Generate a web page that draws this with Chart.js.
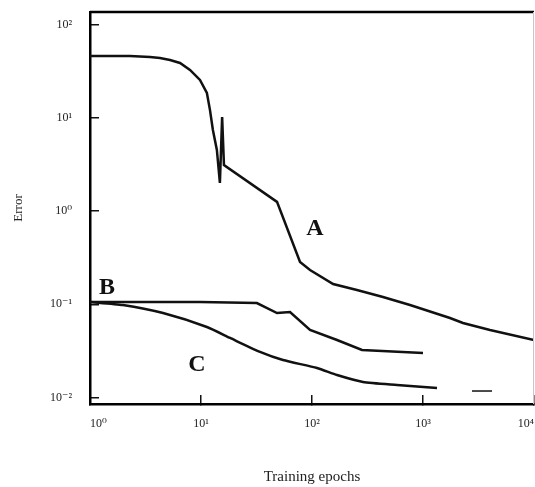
<!DOCTYPE html>
<html>
<head>
<meta charset="utf-8">
<script src="https://cdn.jsdelivr.net/npm/chart.js@4.4.1/dist/chart.umd.min.js"></script>
<style>
  body { margin: 0; background: #fff; }
  #wrap { width: 535px; height: 487px; }
</style>
</head>
<body>
<div id="wrap"><canvas id="errorChart" width="535" height="487"></canvas></div>
<script>
// axis ticks
const epochTicks = [1, 10, 100, 1000, 10000];
const epochTickLabels = ['10⁰', '10¹', '10²', '10³', '10⁴'];
const errorTicks = [0.01, 0.1, 1, 10, 100];
const errorTickLabels = ['10⁻²', '10⁻¹', '10⁰', '10¹', '10²'];

// curve A
const epochsA = [1, 2.29, 3.47, 4.27, 5.26, 6.47, 7.96, 9.79, 11.3, 12.05, 12.8, 13.9, 14.8, 15.5, 16.1, 48.4, 78, 96, 155, 254, 436, 764, 1750, 2291, 4014, 10000];
const errorA = [46.5, 46.5, 45.4, 44.2, 42.1, 39.1, 32.9, 25.7, 18.6, 12.2, 7.45, 4.55, 2.01, 10.3, 3.14, 1.26, 0.285, 0.234, 0.165, 0.1425, 0.12, 0.0984, 0.0713, 0.063, 0.053, 0.0414];

// curve B
const epochsB = [1, 3.47, 9.79, 31.9, 48.4, 63.4, 96, 168, 282, 1000];
const errorB = [0.106, 0.106, 0.106, 0.1033, 0.0806, 0.0827, 0.053, 0.0414, 0.0323, 0.03];

// curve C
const epochsC = [1, 1.98, 4.55, 11.3, 18.3, 34, 54.8, 111, 168, 288, 583, 1337];
const errorC = [0.106, 0.0984, 0.0806, 0.0571, 0.0435, 0.0308, 0.0252, 0.0207, 0.0174, 0.01465, 0.0136, 0.0126];

// short stray mark near the bottom right
const epochsMark = [2762, 4185];
const errorMark = [0.01172, 0.01172];

const curveNames = ['A', 'B', 'C'];
// where the curve letters sit (data coords of the letter baseline)
const letterAt = [[106, 0.556], [1.42, 0.129], [9.2, 0.0192]];

function pts(xs, ys) {
  return xs.map((x, i) => ({ x: x, y: ys[i] }));
}

function lineSet(label, data, width, tension) {
  return {
    label: label,
    data: data,
    borderColor: '#111',
    borderWidth: width,
    pointRadius: 0,
    tension: tension,
    fill: false
  };
}

const serif = '"Liberation Serif", "DejaVu Serif", serif';

// top/right frame and the A/B/C letters
const framePlugin = {
  id: 'frame',
  afterDraw(chart) {
    const ctx = chart.ctx;
    const a = chart.chartArea;
    ctx.save();
    ctx.strokeStyle = '#000';
    ctx.lineWidth = 2.5;
    ctx.beginPath();
    ctx.moveTo(a.left, a.top);
    ctx.lineTo(a.right, a.top);
    ctx.stroke();
    ctx.strokeStyle = '#c8c8c8';
    ctx.lineWidth = 1;
    ctx.beginPath();
    ctx.moveTo(a.right - 0.5, a.top);
    ctx.lineTo(a.right - 0.5, a.bottom);
    ctx.stroke();

    ctx.fillStyle = '#111';
    ctx.font = 'bold 24px ' + serif;
    ctx.textAlign = 'center';
    ctx.textBaseline = 'alphabetic';
    curveNames.forEach((name, i) => {
      const px = chart.scales.x.getPixelForValue(letterAt[i][0]);
      const py = chart.scales.y.getPixelForValue(letterAt[i][1]);
      ctx.fillText(name, px, py);
    });
    ctx.restore();
  }
};

const ctx = document.getElementById('errorChart').getContext('2d');
new Chart(ctx, {
  type: 'line',
  data: {
    datasets: [
      lineSet('A', pts(epochsA, errorA), 2.5, 0),
      lineSet('B', pts(epochsB, errorB), 2.5, 0),
      lineSet('C', pts(epochsC, errorC), 2.5, 0.2),
      lineSet('mark', pts(epochsMark, errorMark), 1.5, 0)
    ]
  },
  options: {
    responsive: false,
    animation: false,
    layout: { padding: { top: 12, right: 1, left: 0, bottom: 0 } },
    plugins: { legend: { display: false }, tooltip: { enabled: false } },
    scales: {
      x: {
        type: 'logarithmic',
        min: 1,
        max: 10000,
        afterBuildTicks: (scale) => { scale.ticks = epochTicks.map(v => ({ value: v })); },
        afterFit: (scale) => { scale.height = 83; scale.paddingLeft = 0; scale.paddingRight = 0; },
        ticks: {
          autoSkip: false,
          maxRotation: 0,
          align: 'inner',
          padding: 22,
          color: '#222',
          font: { family: serif, size: 12 },
          callback: (v, i) => epochTickLabels[i]
        },
        grid: { drawOnChartArea: false, drawTicks: true, tickLength: -9, color: '#111', lineWidth: 1.5 },
        border: { display: true, color: '#000', width: 2.5 },
        title: {
          display: true,
          text: 'Training epochs',
          color: '#222',
          font: { family: serif, size: 15 },
          padding: { top: 0, bottom: 1 }
        }
      },
      y: {
        type: 'logarithmic',
        min: 0.0085,
        max: 138,
        afterBuildTicks: (scale) => { scale.ticks = errorTicks.map(v => ({ value: v })); },
        afterFit: (scale) => { scale.width = 90; scale.paddingTop = 0; scale.paddingBottom = 0; },
        ticks: {
          autoSkip: false,
          padding: 27,
          color: '#222',
          font: { family: serif, size: 12 },
          callback: (v, i) => errorTickLabels[i]
        },
        grid: { drawOnChartArea: false, drawTicks: true, tickLength: -9, color: '#111', lineWidth: 1.5 },
        border: { display: true, color: '#000', width: 2.5 },
        title: {
          display: true,
          text: 'Error',
          color: '#222',
          font: { family: serif, size: 13 },
          padding: { top: 11, bottom: 0 }
        }
      }
    }
  },
  plugins: [framePlugin]
});
</script>
</body>
</html>
